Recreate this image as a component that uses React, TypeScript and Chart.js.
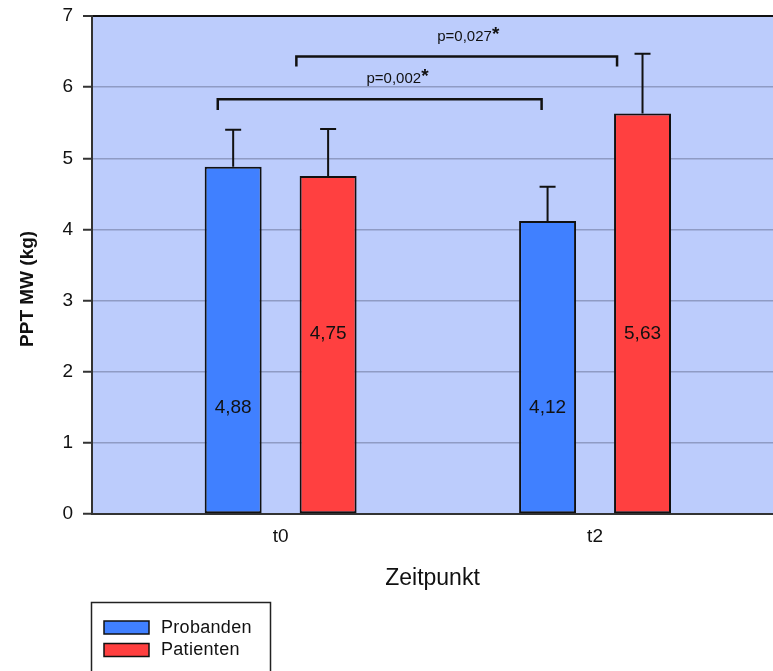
import React, { useEffect, useRef } from 'react';
import { Chart, registerables } from 'chart.js';

Chart.register(...registerables);
Chart.defaults.font.family = "'Liberation Sans', Arial, Helvetica, sans-serif";

// Measurement points
const categories = ['t0', 't2'];

// Mean PPT per group and the upper error (SD)
const probandenMean = [4.88, 4.12];
const probandenSD = [0.52, 0.48];
const patientenMean = [4.75, 5.63];
const patientenSD = [0.66, 0.84];

const seriesNames = ['Probanden', 'Patienten'];
const seriesColors = ['#4080FF', '#FF4040'];

const yAxisTitle = 'PPT MW (kg)';
const xAxisTitle = 'Zeitpunkt';

// Significance brackets (positions on the time axis, heights in kg)
const comparisons = [
  { text: 'p=0,002', from: -0.2, to: 0.83, level: 5.83, drop: 0.15, textAt: 0.36 },
  { text: 'p=0,027', from: 0.05, to: 1.07, level: 6.43, drop: 0.14, textAt: 0.585 },
];

const PLOT_BG = 'rgb(188, 204, 252)';
const GRID = 'rgba(105, 115, 150, 0.55)';
const INK = '#111111';
const FONT = "'Liberation Sans', Arial, Helvetica, sans-serif";

const fmt = (v: number) => v.toFixed(2).replace('.', ',');

const plotBackground = {
  id: 'plotBackground',
  beforeDraw(chart: any) {
    const { ctx, chartArea: a } = chart;
    ctx.save();
    ctx.fillStyle = PLOT_BG;
    ctx.fillRect(a.left, a.top, a.right - a.left, a.bottom - a.top);
    ctx.restore();
  },
};

const barDecorations = {
  id: 'barDecorations',
  afterDatasetsDraw(chart: any) {
    const { ctx } = chart;
    const yScale = chart.scales.y;
    const xScale = chart.scales.x;
    ctx.save();

    chart.data.datasets.forEach((ds: any, di: number) => {
      const meta = chart.getDatasetMeta(di);
      meta.data.forEach((bar: any, i: number) => {
        const value = ds.data[i].y;
        // error bar (upper half only)
        const topPx = yScale.getPixelForValue(value + ds.errorBars[i]);
        ctx.strokeStyle = INK;
        ctx.lineWidth = 2;
        ctx.beginPath();
        ctx.moveTo(bar.x, bar.y);
        ctx.lineTo(bar.x, topPx);
        ctx.moveTo(bar.x - 8, topPx);
        ctx.lineTo(bar.x + 8, topPx);
        ctx.stroke();

        // value label inside the bar
        ctx.fillStyle = INK;
        ctx.font = `19px ${FONT}`;
        ctx.textAlign = 'center';
        ctx.textBaseline = 'middle';
        ctx.fillText(fmt(value), bar.x, yScale.getPixelForValue(ds.valueLabelAt));
      });
    });

    // significance brackets
    comparisons.forEach((c) => {
      const x1 = xScale.getPixelForValue(c.from);
      const x2 = xScale.getPixelForValue(c.to);
      const yTop = yScale.getPixelForValue(c.level);
      const yLeg = yScale.getPixelForValue(c.level - c.drop);
      ctx.strokeStyle = INK;
      ctx.lineWidth = 2.5;
      ctx.lineJoin = 'miter';
      ctx.beginPath();
      ctx.moveTo(x1, yLeg);
      ctx.lineTo(x1, yTop);
      ctx.lineTo(x2, yTop);
      ctx.lineTo(x2, yLeg);
      ctx.stroke();

      const tx = xScale.getPixelForValue(c.textAt);
      const ty = yTop - 20;
      ctx.fillStyle = INK;
      ctx.font = `15px ${FONT}`;
      ctx.textAlign = 'center';
      ctx.textBaseline = 'middle';
      ctx.fillText(c.text, tx, ty);
      const w = ctx.measureText(c.text).width;
      ctx.font = `bold 19px ${FONT}`;
      ctx.textAlign = 'left';
      ctx.fillText('*', tx + w / 2, ty - 2);
    });

    ctx.restore();
  },
};

// Rotated y-axis title, set a little below the middle of the axis
const yTitle = {
  id: 'yTitle',
  afterDraw(chart: any) {
    const { ctx } = chart;
    const a = chart.chartArea;
    ctx.save();
    ctx.translate(20, a.top + (a.bottom - a.top) * 0.548);
    ctx.rotate(-Math.PI / 2);
    ctx.fillStyle = INK;
    ctx.font = `bold 19px ${FONT}`;
    ctx.textAlign = 'center';
    ctx.textBaseline = 'middle';
    ctx.fillText(yAxisTitle, 0, 0);
    ctx.restore();
  },
};

const boxedLegend = {
  id: 'boxedLegend',
  afterDraw(chart: any) {
    const { ctx } = chart;
    ctx.save();
    ctx.strokeStyle = '#222';
    ctx.lineWidth = 1.5;
    ctx.strokeRect(83.5, 594.5, 179, 120);
    chart.data.datasets.forEach((ds: any, i: number) => {
      const y = 613 + i * 22.5;
      ctx.fillStyle = ds.backgroundColor;
      ctx.fillRect(96, y, 45, 13);
      ctx.strokeStyle = INK;
      ctx.lineWidth = 1.5;
      ctx.strokeRect(96, y, 45, 13);
      ctx.fillStyle = INK;
      ctx.font = `18px ${FONT}`;
      (ctx as any).letterSpacing = '0.3px';
      ctx.textAlign = 'left';
      ctx.textBaseline = 'middle';
      ctx.fillText(ds.label, 153, y + 7);
      (ctx as any).letterSpacing = '0px';
    });
    ctx.restore();
  },
};

export default function App() {
  const canvasRef = useRef<HTMLCanvasElement | null>(null);

  useEffect(() => {
    // the legend box runs off the bottom of the window; no scrollbars
    document.documentElement.style.overflow = 'hidden';
    const canvas = canvasRef.current;
    if (!canvas) return;

    const makeData = (means: number[]) => categories.map((_, i) => ({ x: i, y: means[i] }));

    const chart = new Chart(canvas, {
      type: 'bar',
      data: {
        datasets: [
          {
            label: seriesNames[0],
            data: makeData(probandenMean),
            errorBars: probandenSD,
            valueLabelAt: 1.5,
            backgroundColor: seriesColors[0],
            borderColor: INK,
            borderWidth: 2,
            borderSkipped: false,
            barPercentage: 0.6,
            categoryPercentage: 0.604,
          } as any,
          {
            label: seriesNames[1],
            data: makeData(patientenMean),
            errorBars: patientenSD,
            valueLabelAt: 2.54,
            backgroundColor: seriesColors[1],
            borderColor: INK,
            borderWidth: 2,
            borderSkipped: false,
            barPercentage: 0.6,
            categoryPercentage: 0.604,
          } as any,
        ],
      },
      options: {
        animation: false,
        responsive: false,
        layout: { padding: { top: 8, left: 0, right: 0, bottom: 69 } },
        plugins: {
          legend: { display: false },
          tooltip: { enabled: false },
        },
        scales: {
          x: {
            type: 'linear',
            min: -0.6,
            max: 1.566,
            offset: false,
            afterBuildTicks: (s: any) => {
              s.ticks = categories.map((_, i) => ({ value: i }));
            },
            afterFit: (s: any) => {
              s.height = 88;
              s.paddingLeft = 0;
              s.paddingRight = 0;
            },
            ticks: {
              callback: (v: any) => categories[v] ?? '',
              color: INK,
              font: { size: 19 },
              padding: 11,
              maxRotation: 0,
              autoSkip: false,
            },
            grid: { display: false, drawTicks: false, offset: false },
            border: { display: true, color: '#333', width: 2 },
            title: {
              display: true,
              text: xAxisTitle,
              color: INK,
              font: { size: 23 },
              padding: { top: 0, bottom: 10 },
            },
          },
          y: {
            min: 0,
            max: 7,
            afterFit: (s: any) => {
              s.width = 84;
              s.paddingTop = 0;
              s.paddingBottom = 0;
            },
            ticks: {
              stepSize: 1,
              color: INK,
              font: { size: 19 },
              padding: 10,
            },
            grid: {
              color: (c: any) => (c.tick && c.tick.value === 7 ? INK : GRID),
              lineWidth: (c: any) => (c.tick && c.tick.value === 7 ? 2 : 1.5),
              tickColor: '#333',
              tickLength: 9,
              tickWidth: 2,
            },
            border: { display: true, color: '#333', width: 2 },
            title: { display: false },
          },
        },
      } as any,
      plugins: [plotBackground, barDecorations, yTitle, boxedLegend],
    });

    return () => chart.destroy();
  }, []);

  return (
    <div style={{ position: 'fixed', left: 8, top: 8, width: 765, height: 663 }}>
      <canvas
        ref={canvasRef}
        width={765}
        height={663}
        style={{ display: 'block', width: 765, height: 663 }}
      />
    </div>
  );
}
